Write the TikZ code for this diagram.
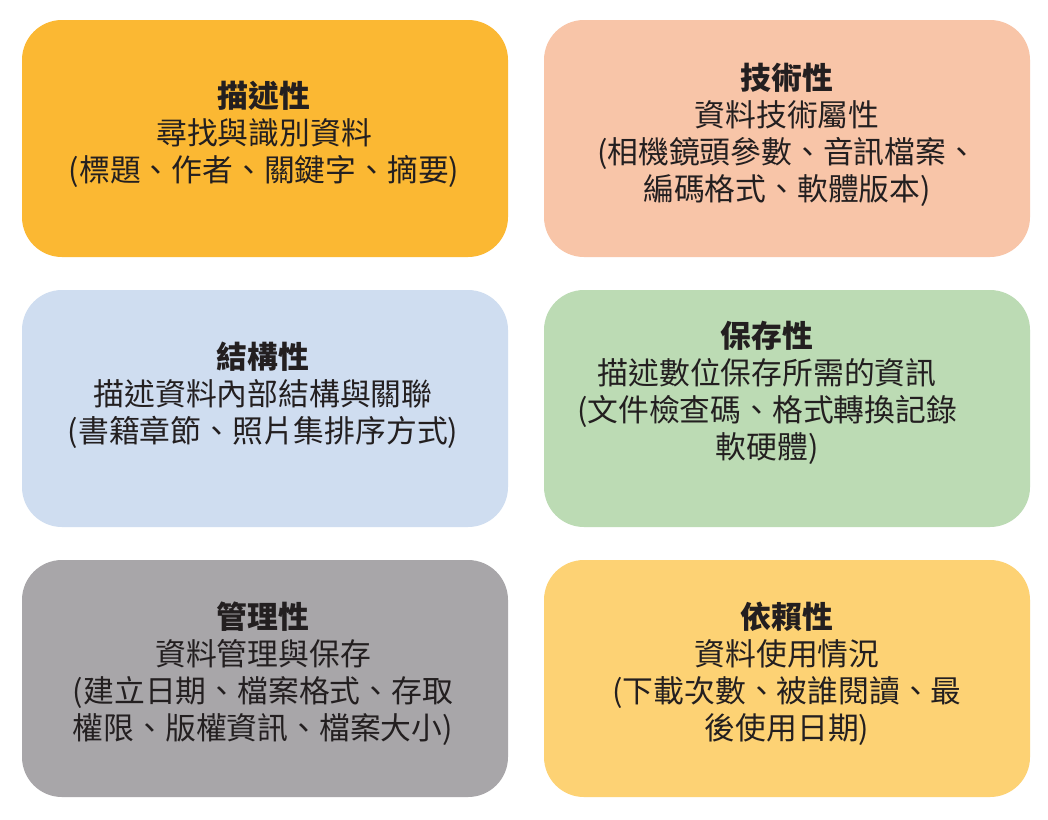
\documentclass[tikz,border=0pt]{standalone}
\usepackage{fontspec}
\setmainfont{Noto Sans CJK TC}
\definecolor{cA}{HTML}{FBB833}
\definecolor{cB}{HTML}{F8C5A8}
\definecolor{cC}{HTML}{CFDDF0}
\definecolor{cD}{HTML}{BCDBB4}
\definecolor{cE}{HTML}{A8A6A9}
\definecolor{cF}{HTML}{FDD274}
\definecolor{ink}{HTML}{231F20}
\begin{document}
\begin{tikzpicture}[x=1pt,y=-1pt,
  card/.style={rounded corners=40pt, draw=none},
  label/.style={align=center, text=ink, inner sep=0pt,
    font=\fontsize{30.8}{37}\selectfont}]
\useasboundingbox (0,0) rectangle (1048,819);
\fill[white] (0,0) rectangle (1048,819);
\path[card, fill=cA] (22,20) rectangle (508,257);
\path[card, fill=cB] (544,20) rectangle (1030,257);
\path[card, fill=cC] (22,290) rectangle (508,527);
\path[card, fill=cD] (544,290) rectangle (1030,527);
\path[card, fill=cE] (22,560) rectangle (508,797);
\path[card, fill=cF] (544,560) rectangle (1030,797);
\node[label] (t1) at (264,134) {\textbf{描述性}\\尋找與識別資料\\(標題、作者、關鍵字、摘要)};
\node[label] (t2) at (787,134.5) {\textbf{技術性}\\資料技術屬性\\(相機鏡頭參數、音訊檔案、\\編碼格式、軟體版本)};
\node[label] (t3) at (263,395) {\textbf{結構性}\\描述資料內部結構與關聯\\(書籍章節、照片集排序方式)};
\node[label] (t4) at (767,392.5) {\textbf{保存性}\\描述數位保存所需的資訊\\(文件檢查碼、格式轉換記錄\\軟硬體)};
\node[label] (t5) at (263,674) {\textbf{管理性}\\資料管理與保存\\(建立日期、檔案格式、存取\\權限、版權資訊、檔案大小)};
\node[label] (t6) at (787,674) {\textbf{依賴性}\\資料使用情況\\(下載次數、被誰閱讀、最\\後使用日期)};
\end{tikzpicture}
\end{document}
